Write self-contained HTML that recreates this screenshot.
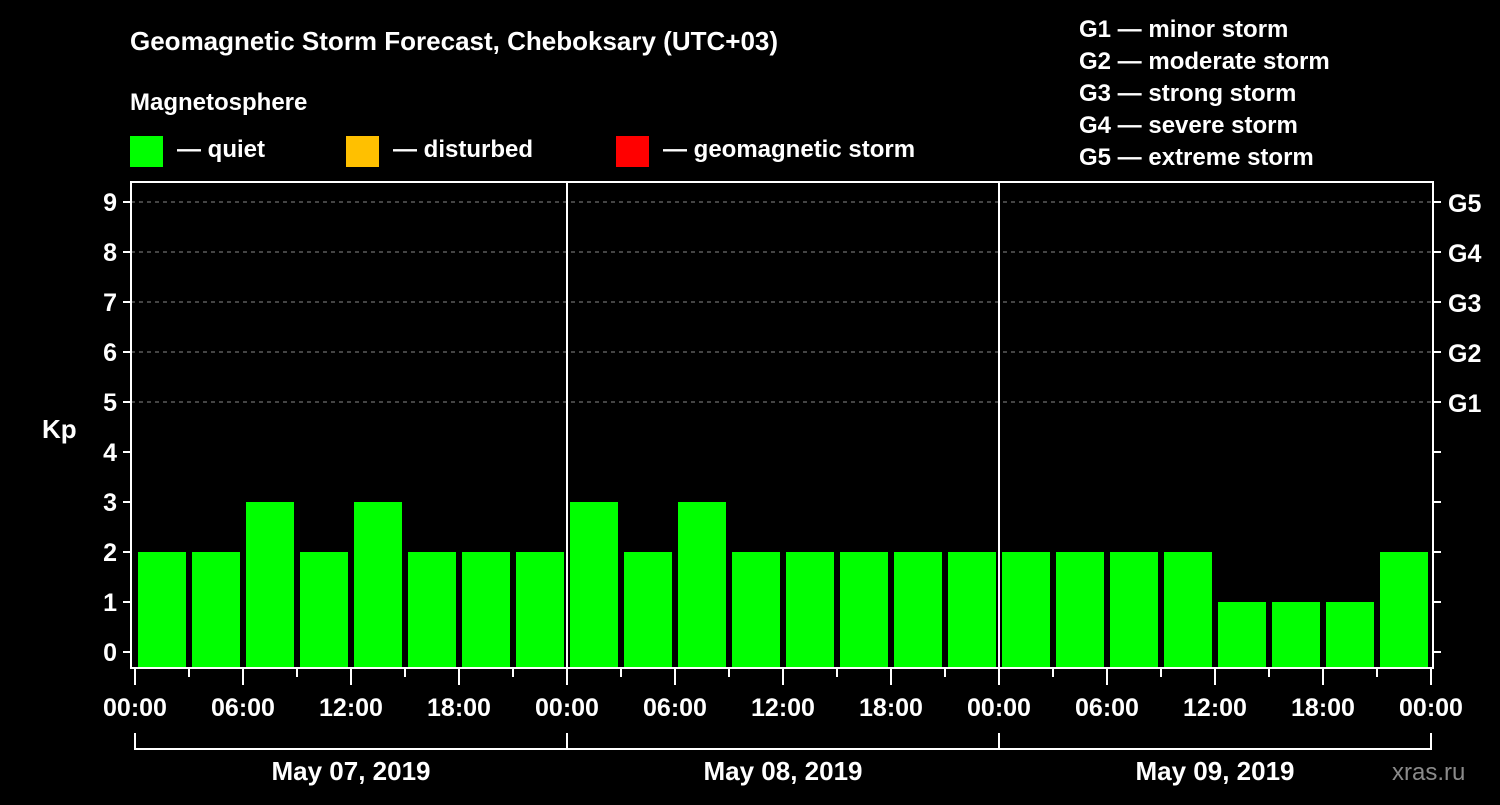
<!DOCTYPE html>
<html><head><meta charset="utf-8"><style>
body{margin:0;background:#000;width:1500px;height:800px;overflow:hidden}
svg text{font-family:"Liberation Sans",sans-serif;font-weight:bold;fill:#fff}
</style></head><body>
<svg id="c" width="1500" height="800" xmlns="http://www.w3.org/2000/svg">
<rect width="1500" height="800" fill="#000"/>
<text x="130" y="50" font-size="26">Geomagnetic Storm Forecast, Cheboksary (UTC+03)</text>
<text x="130" y="110" font-size="24">Magnetosphere</text>
<rect x="130" y="136" width="33" height="31" fill="#00ff00"/>
<text x="177" y="157" font-size="24">— quiet</text>
<rect x="346" y="136" width="33" height="31" fill="#ffc000"/>
<text x="393" y="157" font-size="24">— disturbed</text>
<rect x="616" y="136" width="33" height="31" fill="#ff0000"/>
<text x="663" y="157" font-size="24">— geomagnetic storm</text>
<g font-size="24">
<text x="1079" y="37">G1 — minor storm</text>
<text x="1079" y="69">G2 — moderate storm</text>
<text x="1079" y="101">G3 — strong storm</text>
<text x="1079" y="133">G4 — severe storm</text>
<text x="1079" y="165">G5 — extreme storm</text>
</g>
<text x="42" y="438" font-size="26">Kp</text>
<text x="1392" y="780" font-size="24" fill="#888" style="fill:#8a8a8a;font-weight:normal">xras.ru</text>
<g id="plot"></g>
</svg>
<script>
const kpValues=[2,2,3,2,3,2,2,2, 3,2,3,2,2,2,2,2, 2,2,2,2,1,1,1,2];
const dayLabels=["May 07, 2019","May 08, 2019","May 09, 2019"];
const hourLabels=["00:00","06:00","12:00","18:00"];
const yTicks=[0,1,2,3,4,5,6,7,8,9];
const gLabels=["G1","G2","G3","G4","G5"];
const NS="http://www.w3.org/2000/svg";
const g=document.getElementById('plot');
const L=131,R=1433,T=182,B=668,X0=135,dayW=432;
const y=v=>652-50*v;
const x=h=>X0+h*(dayW/24);
function mk(t,a){const e=document.createElementNS(NS,t);for(const k in a)e.setAttribute(k,a[k]);g.appendChild(e);return e;}
// grid
for(let v=5;v<=9;v++){const e=mk('line',{x1:L,x2:R,y1:y(v),y2:y(v),stroke:'#888','stroke-dasharray':'4,4','stroke-width':1});

}
// bars
kpValues.forEach((v,i)=>{const col=v>=5?'#ff0000':(v>=4?'#ffc000':'#00ff00');
const e=mk('rect',{x:x(i*3)+3,y:y(v),width:dayW/8-6,height:B-1-y(v),fill:col});

});
// day separators
for(let d=1;d<dayLabels.length;d++){const e=mk('line',{x1:x(d*24),x2:x(d*24),y1:T,y2:B,stroke:'#fff','stroke-width':2});

}
// frame
const f=mk('rect',{x:L,y:T,width:R-L,height:B-T,fill:'none',stroke:'#fff','stroke-width':2});


// y ticks
yTicks.forEach(v=>{mk('line',{x1:L-8,x2:L,y1:y(v),y2:y(v),stroke:'#fff','stroke-width':2});
mk('line',{x1:R,x2:R+8,y1:y(v),y2:y(v),stroke:'#fff','stroke-width':2});
const t=mk('text',{x:L-14,y:y(v)+9,'font-size':25,'text-anchor':'end'});t.textContent=v;

});
gLabels.forEach((s,i)=>{const t=mk('text',{x:1448,y:y(i+5)+10,'font-size':25});t.textContent=s;

});
// x ticks
for(let h=0;h<=72;h+=3){const major=h%6===0;
mk('line',{x1:x(h),x2:x(h),y1:B,y2:B+(major?17:9),stroke:'#fff','stroke-width':2});
if(major){const t=mk('text',{x:x(h),y:716,'font-size':25,'text-anchor':'middle'});t.textContent=hourLabels[(h%24)/6];

}}
// day brackets
const br=mk('path',{d:`M${x(0)},733V749H${x(72)}V733`,fill:'none',stroke:'#fff','stroke-width':2});


for(let d=1;d<dayLabels.length;d++)mk('line',{x1:x(d*24),x2:x(d*24),y1:733,y2:749,stroke:'#fff','stroke-width':2});
dayLabels.forEach((s,d)=>{const t=mk('text',{x:x(d*24+12),y:780,'font-size':26,'text-anchor':'middle'});t.textContent=s;

});
</script>
</body></html>
